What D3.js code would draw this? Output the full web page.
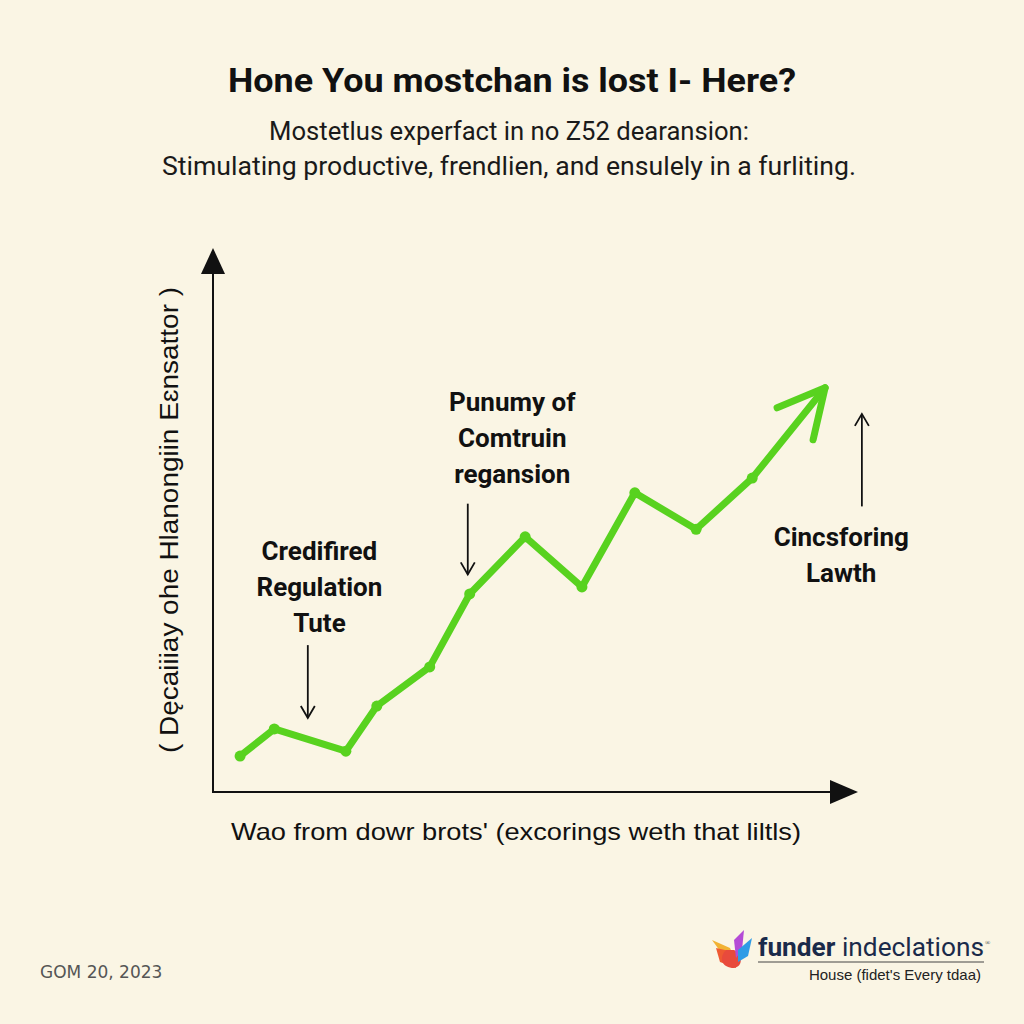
<!DOCTYPE html>
<html><head><meta charset="utf-8">
<script src="https://cdn.jsdelivr.net/npm/d3@7"></script>
<style>html,body{margin:0;padding:0;background:#faf5e4;}svg{display:block;}</style>
</head><body>
<script>
const titleText = "Hone You mostchan is lost I- Here?";
const subtitleLines = ["Mostetlus experfact in no Z52 dearansion:", "Stimulating productive, frendlien, and ensulely in a furliting."];
const yAxisTitle = "( Dęcaiiiay ohe Hlanongiin  Eɛnsattor )";
const xAxisTitle = "Wao from  dowr brots' (excorings weth that liltls)";
const xValues = [0.42, 0.95, 2.06, 2.54, 3.36, 3.98, 4.84, 5.72, 6.54, 7.49, 8.36, 9.49];
const yValues = [0.66, 1.16, 0.75, 1.58, 2.30, 3.64, 4.69, 3.77, 5.50, 4.83, 5.77, 7.43];
const annotations = [
  {lines:["Credifired","Regulation","Tute"], x:1.65, y:4.27, dir:"down", ax:1.47, ay0:2.70, ay1:1.36},
  {lines:["Punumy of","Comtruin","regansion"], x:4.64, y:7.0, dir:"down", ax:3.95, ay0:5.3, ay1:4.0},
  {lines:["Cincsforing","Lawth"], x:9.74, y:4.52, dir:"up", ax:10.06, ay0:5.25, ay1:6.95}
];
const dateText = "GOM 20, 2023";
const logoMain = ["funder", " indeclations"];
const logoSub = "House (fidet's Every tdaa)";

const W = 1024, H = 1024;
const svg = d3.select("body").append("svg").attr("width", W).attr("height", H);
svg.append("rect").attr("width", W).attr("height", H).attr("fill", "#faf5e4");

const x = d3.scaleLinear().domain([0, 10]).range([213, 858]);
const y = d3.scaleLinear().domain([0, 10]).range([792, 248]);

// Title
svg.append("text").attr("x", 512).attr("y", 92).attr("text-anchor", "middle")
  .attr("font-family", "Roboto, Arial, sans-serif").attr("font-weight", "bold").attr("font-size", 34)
  .attr("fill", "#111").attr("textLength", 568).attr("lengthAdjust", "spacingAndGlyphs").text(titleText);
subtitleLines.forEach((t, i) => {
  svg.append("text").attr("x", 509).attr("y", 140 + i * 35).attr("text-anchor", "middle")
    .attr("font-family", "Roboto, Arial, sans-serif").attr("font-size", 25).attr("fill", "#1a1a1a")
    .attr("textLength", i === 0 ? 480 : 694).attr("lengthAdjust", "spacingAndGlyphs").text(t);
});

// Axes
const axisColor = "#111";
svg.append("line").attr("x1", x(0)).attr("y1", y(0)).attr("x2", x(0)).attr("y2", y(10) + 22)
  .attr("stroke", axisColor).attr("stroke-width", 2);
svg.append("line").attr("x1", x(0) - 1).attr("y1", y(0)).attr("x2", x(10) - 26).attr("y2", y(0))
  .attr("stroke", axisColor).attr("stroke-width", 2);
svg.append("path").attr("d", `M${x(0)},${y(10)} L${x(0)-12},${y(10)+26} L${x(0)+12},${y(10)+26} Z`).attr("fill", axisColor);
svg.append("path").attr("d", `M${x(10)},${y(0)} L${x(10)-28},${y(0)-12} L${x(10)-28},${y(0)+12} Z`).attr("fill", axisColor);

// Axis titles
svg.append("text").attr("transform", `translate(178, ${y(5.0)}) rotate(-90)`).attr("text-anchor", "middle")
  .attr("font-family", "Liberation Sans, Arial, sans-serif").attr("font-size", 25).attr("fill", "#111")
  .attr("textLength", 466).attr("lengthAdjust", "spacingAndGlyphs").text(yAxisTitle);
svg.append("text").attr("x", 516).attr("y", 840).attr("text-anchor", "middle")
  .attr("font-family", "Liberation Sans, Arial, sans-serif").attr("font-size", 24).attr("fill", "#111")
  .attr("textLength", 570).attr("lengthAdjust", "spacingAndGlyphs").text(xAxisTitle);

// Line
const green = "#58d21f";
const pts = xValues.map((v, i) => [v, yValues[i]]);
const line = d3.line().x(d => x(d[0])).y(d => y(d[1]));
svg.append("path").datum(pts).attr("d", line).attr("fill", "none").attr("stroke", green)
  .attr("stroke-width", 7).attr("stroke-linejoin", "round").attr("stroke-linecap", "round");
svg.selectAll("circle.pt").data(pts.slice(0, -1)).enter().append("circle").attr("class", "pt")
  .attr("cx", d => x(d[0])).attr("cy", d => y(d[1])).attr("r", 5.5).attr("fill", green);
// arrowhead at end
const tip = pts[pts.length - 1];
const tx = x(tip[0]), ty = y(tip[1]);
svg.append("path").attr("d", `M${tx-48},${ty+20} L${tx},${ty} L${tx-12},${ty+52}`)
  .attr("fill", "none").attr("stroke", green).attr("stroke-width", 7)
  .attr("stroke-linecap", "round").attr("stroke-linejoin", "round");

// Annotations
annotations.forEach(a => {
  a.lines.forEach((t, i) => {
    svg.append("text").attr("x", x(a.x)).attr("y", y(a.y) + i * 36).attr("text-anchor", "middle")
      .attr("font-family", "Roboto, Arial, sans-serif").attr("font-weight", "bold").attr("font-size", 26)
      .attr("fill", "#111").text(t);
  });
  const ax = x(a.ax), y0 = y(a.ay0), y1 = y(a.ay1);
  svg.append("line").attr("x1", ax).attr("y1", y0).attr("x2", ax).attr("y2", y1)
    .attr("stroke", "#111").attr("stroke-width", 1.8);
  const s = a.dir === "down" ? -1 : 1;
  svg.append("path").attr("d", `M${ax-7},${y1 + s*12} L${ax},${y1} L${ax+7},${y1 + s*12}`)
    .attr("fill", "none").attr("stroke", "#111").attr("stroke-width", 1.8);
});

// Date
svg.append("text").attr("x", 40).attr("y", 978).attr("font-family", "DejaVu Sans, sans-serif")
  .attr("font-size", 17).attr("fill", "#555").text(dateText);

// Logo
const lg = svg.append("g");
lg.append("path").attr("d", "M712,940 L730,948 L738,966 L728,962 Z").attr("fill", "#f2b233");
lg.append("path").attr("d", "M716,948 L734,952 L736,968 L720,962 Z").attr("fill", "#ef5a32");
lg.append("path").attr("d", "M726,950 C718,958 722,968 734,968 C744,966 742,954 734,950 Z").attr("fill", "#e84a3c");
lg.append("path").attr("d", "M734,940 L744,930 L742,950 L736,958 Z").attr("fill", "#b44bd6");
lg.append("path").attr("d", "M738,950 L752,938 L748,956 L738,962 Z").attr("fill", "#2f9be6");
const lt = lg.append("text").attr("x", 758).attr("y", 956).attr("font-family", "Roboto, Arial, sans-serif")
  .attr("font-size", 26).attr("fill", "#1a2a4a").attr("textLength", 226).attr("lengthAdjust", "spacingAndGlyphs");
lt.append("tspan").attr("font-weight", "bold").text(logoMain[0]);
lt.append("tspan").text(logoMain[1]);
lg.append("text").attr("x", 985).attr("y", 945).attr("font-size", 7).attr("fill", "#333").text("®");
lg.append("line").attr("x1", 758).attr("y1", 962).attr("x2", 984).attr("y2", 962).attr("stroke", "#444").attr("stroke-width", 1);
lg.append("text").attr("x", 981).attr("y", 980).attr("text-anchor", "end").attr("font-family", "Liberation Sans, Arial, sans-serif")
  .attr("font-size", 15).attr("fill", "#222").text(logoSub);
</script>
</body></html>
